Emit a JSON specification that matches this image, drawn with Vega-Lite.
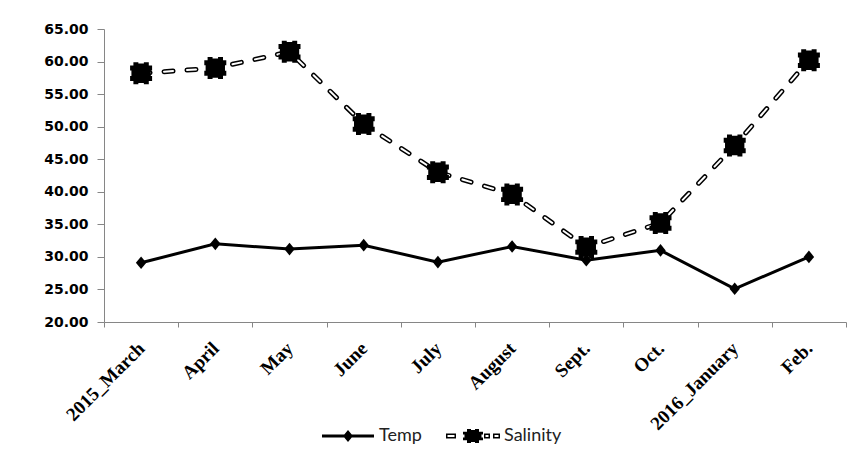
{
  "$schema": "https://vega.github.io/schema/vega-lite/v6.json",
  "autosize": {"type": "none"},
  "width": 742,
  "height": 293,
  "padding": {"left": 104, "top": 29, "right": 12, "bottom": 141},
  "background": "white",
  "config": {
    "view": {"stroke": null},
    "axis": {"grid": false, "title": null}
  },
  "data": {
    "values": [
      {"month": "2015_March", "series": "Temp", "value": 29.1},
      {"month": "April", "series": "Temp", "value": 32.0},
      {"month": "May", "series": "Temp", "value": 31.2},
      {"month": "June", "series": "Temp", "value": 31.8},
      {"month": "July", "series": "Temp", "value": 29.2},
      {"month": "August", "series": "Temp", "value": 31.6},
      {"month": "Sept.", "series": "Temp", "value": 29.5},
      {"month": "Oct.", "series": "Temp", "value": 31.0},
      {"month": "2016_January", "series": "Temp", "value": 25.1},
      {"month": "Feb.", "series": "Temp", "value": 30.0},
      {"month": "2015_March", "series": "Salinity", "value": 58.2},
      {"month": "April", "series": "Salinity", "value": 59.0},
      {"month": "May", "series": "Salinity", "value": 61.5},
      {"month": "June", "series": "Salinity", "value": 50.4},
      {"month": "July", "series": "Salinity", "value": 43.0},
      {"month": "August", "series": "Salinity", "value": 39.6},
      {"month": "Sept.", "series": "Salinity", "value": 31.5},
      {"month": "Oct.", "series": "Salinity", "value": 35.2},
      {"month": "2016_January", "series": "Salinity", "value": 47.1},
      {"month": "Feb.", "series": "Salinity", "value": 60.2}
    ]
  },
  "encoding": {
    "x": {
      "field": "month",
      "type": "nominal",
      "sort": ["2015_March", "April", "May", "June", "July", "August", "Sept.", "Oct.", "2016_January", "Feb."],
      "scale": {"type": "band", "paddingInner": 0, "paddingOuter": 0},
      "axis": {
        "tickBand": "extent",
        "labelAngle": -45,
        "labelAlign": "right",
        "labelBaseline": "middle",
        "labelFont": "Liberation Serif",
        "labelFontWeight": "bold",
        "labelFontSize": 19,
        "labelColor": "black",
        "labelPadding": 18,
        "tickSize": 5,
        "tickColor": "#868686",
        "domainColor": "#868686",
        "labelOverlap": false
      }
    },
    "y": {
      "field": "value",
      "type": "quantitative",
      "scale": {"domain": [20, 65], "nice": false, "zero": false},
      "axis": {
        "values": [20, 25, 30, 35, 40, 45, 50, 55, 60, 65],
        "format": ".2f",
        "labelFont": "DejaVu Sans",
        "labelFontWeight": "bold",
        "labelFontSize": 14,
        "labelColor": "black",
        "labelPadding": 9,
        "tickSize": 7,
        "tickColor": "#868686",
        "domainColor": "#868686"
      }
    }
  },
  "layer": [
    {
      "transform": [{"filter": "datum.series == 'Temp'"}],
      "mark": {"type": "line", "color": "black", "strokeWidth": 3}
    },
    {
      "transform": [{"filter": "datum.series == 'Temp'"}],
      "mark": {
        "type": "point",
        "filled": true,
        "color": "black",
        "opacity": 1,
        "size": 121,
        "shape": "M0,-1.15L0.95,0L0,1.15L-0.95,0Z"
      }
    },
    {
      "transform": [{"filter": "datum.series == 'Salinity'"}],
      "mark": {"type": "line", "color": "black", "strokeWidth": 5, "strokeDash": [9, 14], "strokeCap": "round"}
    },
    {
      "transform": [{"filter": "datum.series == 'Salinity'"}],
      "mark": {"type": "line", "color": "white", "strokeWidth": 2, "strokeDash": [9, 14], "strokeCap": "round"}
    },
    {
      "transform": [{"filter": "datum.series == 'Salinity'"}],
      "mark": {
        "type": "point",
        "filled": true,
        "color": "black",
        "opacity": 1,
        "size": 484,
        "shape": "M-0.7,-1H-0.25V-0.88H0.25V-1H0.7V-0.7H1V-0.25H0.88V0.25H1V0.7H0.7V1H0.25V0.88H-0.25V1H-0.7V0.7H-1V0.25H-0.88V-0.25H-1V-0.7H-0.7Z"
      }
    },
    {
      "mark": {"type": "point", "filled": true, "color": "black", "opacity": 0, "size": 2500},
      "encoding": {
        "shape": {
          "field": "series",
          "type": "nominal",
          "scale": {
            "domain": ["Temp", "Salinity"],
            "range": [
              "M-1.04,-0.06H1.04V0.06H-1.04Z M0,-0.24L0.2,0L0,0.24L-0.2,0Z",
              "M-1.08,-0.1H-0.68V0.1H-1.08Z M-1.02,-0.04V0.04H-0.74V-0.04Z M-0.24,-0.28H-0.08V-0.24H0.08V-0.28H0.24V-0.17H0.4V-0.06H0.34V0.06H0.4V0.17H0.24V0.28H0.08V0.24H-0.08V0.28H-0.24V0.17H-0.4V0.06H-0.34V-0.06H-0.4V-0.17H-0.24Z M0.44,-0.1H0.68V0.1H0.44Z M0.5,-0.04V0.04H0.62V-0.04Z M0.8,-0.1H1.08V0.1H0.8Z M0.86,-0.04V0.04H1.02V-0.04Z"
            ]
          },
          "legend": {
            "title": null,
            "orient": "none",
            "legendX": 219,
            "legendY": 382,
            "direction": "horizontal",
            "padding": 0,
            "symbolSize": 2500,
            "symbolOpacity": 1,
            "symbolFillColor": "black",
            "symbolStrokeColor": "black",
            "symbolStrokeWidth": 0,
            "labelFont": "Lato",
            "labelFontSize": 18,
            "labelColor": "#222222",
            "labelOffset": 6,
            "columnPadding": 24
          }
        }
      }
    }
  ]
}
